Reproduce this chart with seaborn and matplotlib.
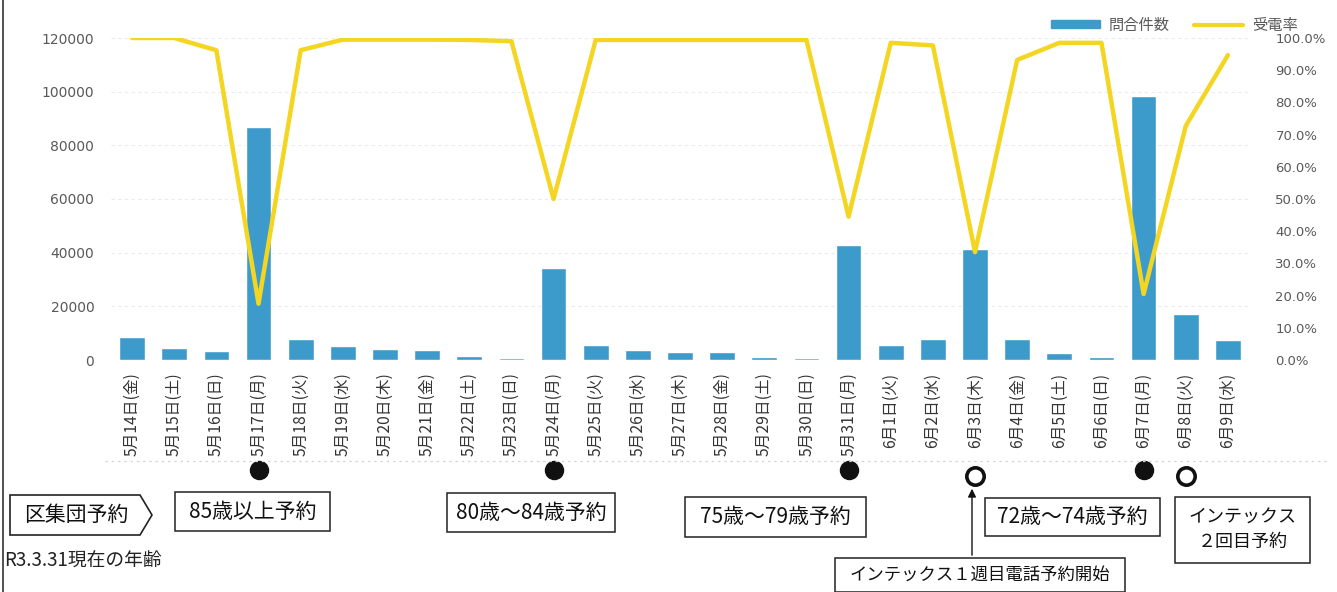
import numpy as np
import pandas as pd
import matplotlib
matplotlib.use("Agg")
import matplotlib.pyplot as plt
import seaborn as sns
from matplotlib.patches import Patch, Polygon, Rectangle, FancyArrowPatch
from matplotlib.lines import Line2D
from matplotlib.ticker import PercentFormatter, MultipleLocator
import matplotlib.transforms as mtransforms

# ---------------- data ----------------
dates = ["5月14日(金)", "5月15日(土)", "5月16日(日)", "5月17日(月)", "5月18日(火)",
         "5月19日(水)", "5月20日(木)", "5月21日(金)", "5月22日(土)", "5月23日(日)",
         "5月24日(月)", "5月25日(火)", "5月26日(水)", "5月27日(木)", "5月28日(金)",
         "5月29日(土)", "5月30日(日)", "5月31日(月)", "6月1日(火)", "6月2日(水)",
         "6月3日(木)", "6月4日(金)", "6月5日(土)", "6月6日(日)", "6月7日(月)",
         "6月8日(火)", "6月9日(水)"]
inquiries = [8600, 4300, 3400, 87000, 7700, 5200, 4000, 3600, 1500, 800,
             34300, 5600, 3700, 2800, 2800, 1100, 800, 43000, 5600, 7700,
             41400, 8000, 2500, 1200, 98500, 17300, 7400]
answer_rate = [1.000, 1.000, 0.962, 0.175, 0.962, 0.995, 0.995, 0.995, 0.994, 0.990,
               0.500, 0.994, 0.994, 0.994, 0.994, 0.994, 0.994, 0.445, 0.985, 0.977,
               0.335, 0.932, 0.985, 0.985, 0.205, 0.727, 0.947]
legend_labels = ["問合件数", "受電率"]
left_ticks = [0, 20000, 40000, 60000, 80000, 100000, 120000]

filled_marks = [3, 10, 17, 24]      # ● category indices
open_marks = [20, 25]               # ○ category indices

box_labels = ["85歳以上予約", "80歳～84歳予約", "75歳～79歳予約", "72歳～74歳予約",
              "インテックス\n２回目予約", "インテックス１週目電話予約開始"]
arrow_label = "区集団予約"
note_label = "R3.3.31現在の年齢"

# ---------------- style ----------------
sns.set_theme(style="white")
plt.rcParams['font.family'] = ['Noto Sans CJK JP', 'DejaVu Sans']

W, H = 1337, 592
fig = plt.figure(figsize=(W / 100, H / 100), dpi=100)
fx = lambda px: px / W
fy = lambda py: 1 - py / H

ax = fig.add_axes([fx(111), fy(360), fx(1249) - fx(111), fy(38) - fy(360)])

BAR = "#3D9BCB"
LINE = "#F4D622"
TXT = "#595959"

df = pd.DataFrame({"date": dates, "inq": inquiries, "rate": answer_rate,
                   "idx": np.arange(len(dates))})

sns.barplot(data=df, x="date", y="inq", color=BAR, saturation=1, width=0.61, ax=ax)
ax.set_ylim(0, 120000)
ax.yaxis.set_major_locator(MultipleLocator(20000))
ax.grid(axis="y", color="#ebebeb", linestyle=(0, (3, 3)), linewidth=0.8)
ax.set_axisbelow(True)

ax2 = ax.twinx()
sns.lineplot(data=df, x="idx", y="rate", color=LINE, linewidth=3.2, ax=ax2)
ax2.set_ylim(0, 1.0)
ax2.yaxis.set_major_locator(MultipleLocator(0.1))
ax2.yaxis.set_major_formatter(PercentFormatter(xmax=1, decimals=1))
ax.set_xlim(-0.5, len(dates) - 0.5)

for a in (ax, ax2):
    for s in a.spines.values():
        s.set_visible(False)
    a.set_xlabel("")
    a.set_ylabel("")
ax.tick_params(axis="y", length=0, pad=12, labelsize=10, labelcolor=TXT)
ax.set_yticks(left_ticks)
ax.set_yticklabels([str(v) for v in left_ticks], family="DejaVu Sans")
ax2.tick_params(axis="y", length=0, pad=19, labelsize=9.5, labelcolor=TXT)
for t in ax2.get_yticklabels():
    t.set_family("DejaVu Sans")
ax.tick_params(axis="x", length=0, pad=9, labelsize=11.3, labelcolor="#333333")
ax.set_xticks(range(len(dates)))
ax.set_xticklabels(dates, rotation=90, va="top", ha="center")

# legend
handles = [Patch(facecolor=BAR, edgecolor=BAR), Line2D([], [], color=LINE, lw=3)]
leg = fig.legend(handles, legend_labels, loc="upper right", ncol=2, frameon=False,
                 bbox_to_anchor=(fx(1312), fy(3)), fontsize=11, handlelength=3.2,
                 handleheight=0.4, columnspacing=1.6, handletextpad=0.6)
for t in leg.get_texts():
    t.set_color(TXT)

# markers below the axis (x in data, y in axes fraction)
trans = mtransforms.blended_transform_factory(ax.transData, ax.transAxes)
ya = lambda py: (360 - py) / 322
ax.plot(filled_marks, [ya(470)] * len(filled_marks), "o", ms=13, color="#111111",
        transform=trans, clip_on=False)
ax.plot(open_marks, [ya(476)] * len(open_marks), "o", ms=12.5, mfc="white",
        mec="#111111", mew=2.6, transform=trans, clip_on=False)

# faint dotted separator line
fig.add_artist(Line2D([fx(105), fx(1330)], [fy(461), fy(461)], color="#d5d5d5",
                      lw=0.9, ls=(0, (2, 3))))
# left frame line
fig.add_artist(Line2D([fx(2.5), fx(2.5)], [0, 1], color="#333333", lw=1.2))

# arrow-shaped label
pts = [(10, 495), (140, 495), (152, 515), (140, 535), (10, 535)]
fig.add_artist(Polygon([(fx(x), fy(y)) for x, y in pts], closed=True, fill=False,
                       edgecolor="#222222", lw=1.2, transform=fig.transFigure))
fig.text(fx(76), fy(515), arrow_label, ha="center", va="center", fontsize=15, color="#111111")

boxes = [(175, 492, 330, 531), (447, 493, 615, 532), (685, 497, 866, 537),
         (985, 498, 1160, 536), (1175, 497, 1310, 563), (835, 558, 1125, 592)]
sizes = [15, 15, 15, 15, 13, 12.5]
for (x0, y0, x1, y1), lab, fs in zip(boxes, box_labels, sizes):
    fig.add_artist(Rectangle((fx(x0), fy(y1)), fx(x1) - fx(x0), fy(y0) - fy(y1),
                             fill=False, edgecolor="#222222", lw=1.1,
                             transform=fig.transFigure))
    fig.text(fx((x0 + x1) / 2), fy((y0 + y1) / 2), lab, ha="center", va="center",
             fontsize=fs, color="#111111", linespacing=1.45)

# arrow up to the open circle
fig.add_artist(FancyArrowPatch((fx(972), fy(558)), (fx(972), fy(486)),
                               arrowstyle="-|>", mutation_scale=12, color="#111111",
                               lw=1.0, transform=fig.transFigure))

fig.text(fx(4), fy(561), note_label, ha="left", va="center", fontsize=13.5, color="#222222")

fig.savefig("out.png", dpi=100, facecolor="white")
